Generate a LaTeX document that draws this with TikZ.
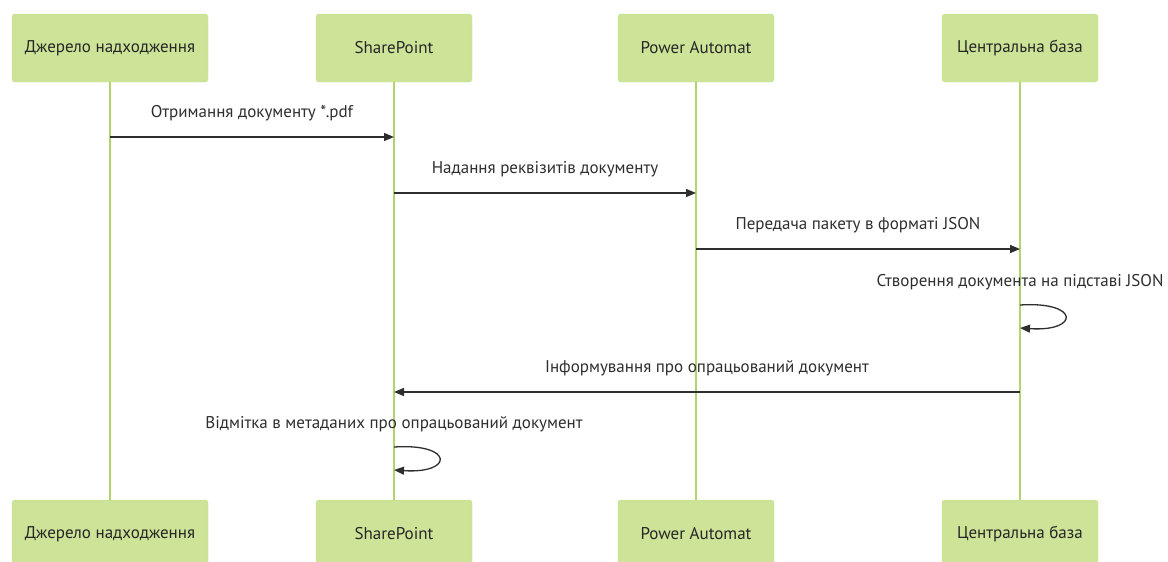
\documentclass[tikz,border=0pt]{standalone}
\usepackage{fontspec}
\setmainfont{PT Sans}
\usetikzlibrary{arrows.meta, positioning, calc}
\definecolor{actorFill}{HTML}{CDE498}
\definecolor{actorLine}{HTML}{C2DE88}
\definecolor{lifeLine}{HTML}{B3D46C}
\definecolor{msgText}{HTML}{2E2E2E}
\tikzset{
  actor/.style = {
    draw=actorLine,
    fill=actorFill,
    rounded corners=3pt,
    minimum width=156pt,
    minimum height=68pt,
    text=black!85,
    font=\fontsize{17}{20}\selectfont,
  },
  lifeline/.style = {
    draw=lifeLine,
    line width=1.6pt,
  },
  message/.style = {
    draw=msgText,
    line width=1.3pt,
    -{Triangle[length=10pt, width=8pt]},
  },
  msgLabel/.style = {
    text=msgText,
    font=\fontsize{17}{20}\selectfont,
  },
}

\begin{document}
\begin{tikzpicture}[
  x=1pt, y=-1pt,
  labelAbove/.style = {
    msgLabel,
    yshift=24pt,
  },
]
\useasboundingbox (0,0) rectangle (1168,562);

% actors, top row
\node(Source)[actor, minimum width=196pt] at (110,48) {Джерело надходження};
\node(SharePoint)[actor] at (394,48) {SharePoint};
\node(Automat)[actor] at (696,48) {Power Automat};
\node(Base)[actor] at (1020,48) {Центральна база};

% actors, bottom row
\node(SourceEnd)[actor, minimum width=196pt] at (110,534) {Джерело надходження};
\node(SharePointEnd)[actor] at (394,534) {SharePoint};
\node(AutomatEnd)[actor] at (696,534) {Power Automat};
\node(BaseEnd)[actor] at (1020,534) {Центральна база};

% lifelines
\draw[lifeline] (Source.south) -- (SourceEnd.north);
\draw[lifeline] (SharePoint.south) -- (SharePointEnd.north);
\draw[lifeline] (Automat.south) -- (AutomatEnd.north);
\draw[lifeline] (Base.south) -- (BaseEnd.north);

% messages
\draw[message] (Source.south |- 0,137)
  -- node[labelAbove] {Отримання документу *.pdf} (SharePoint.south |- 0,137);
\draw[message] (SharePoint.south |- 0,193)
  -- node[labelAbove] {Надання реквізитів документу} (Automat.south |- 0,193);
\draw[message] (Automat.south |- 0,249)
  -- node[labelAbove] {Передача пакету в форматі JSON} (Base.south |- 0,249);

\node(CreateNote)[msgLabel] at (Base.south |- 0,282) {Створення документа на підставі JSON};
\draw[message] (Base.south |- 0,305)
  .. controls +(60,-4) and +(60,4) .. (Base.south |- 0,328);

\draw[message] (Base.south |- 0,392)
  -- node[labelAbove] {Інформування про опрацьований документ} (SharePoint.south |- 0,392);

\node(MarkNote)[msgLabel] at (SharePoint.south |- 0,424) {Відмітка в метаданих про опрацьований документ};
\draw[message] (SharePoint.south |- 0,447)
  .. controls +(60,-4) and +(60,4) .. (SharePoint.south |- 0,470);

\end{tikzpicture}
\end{document}
